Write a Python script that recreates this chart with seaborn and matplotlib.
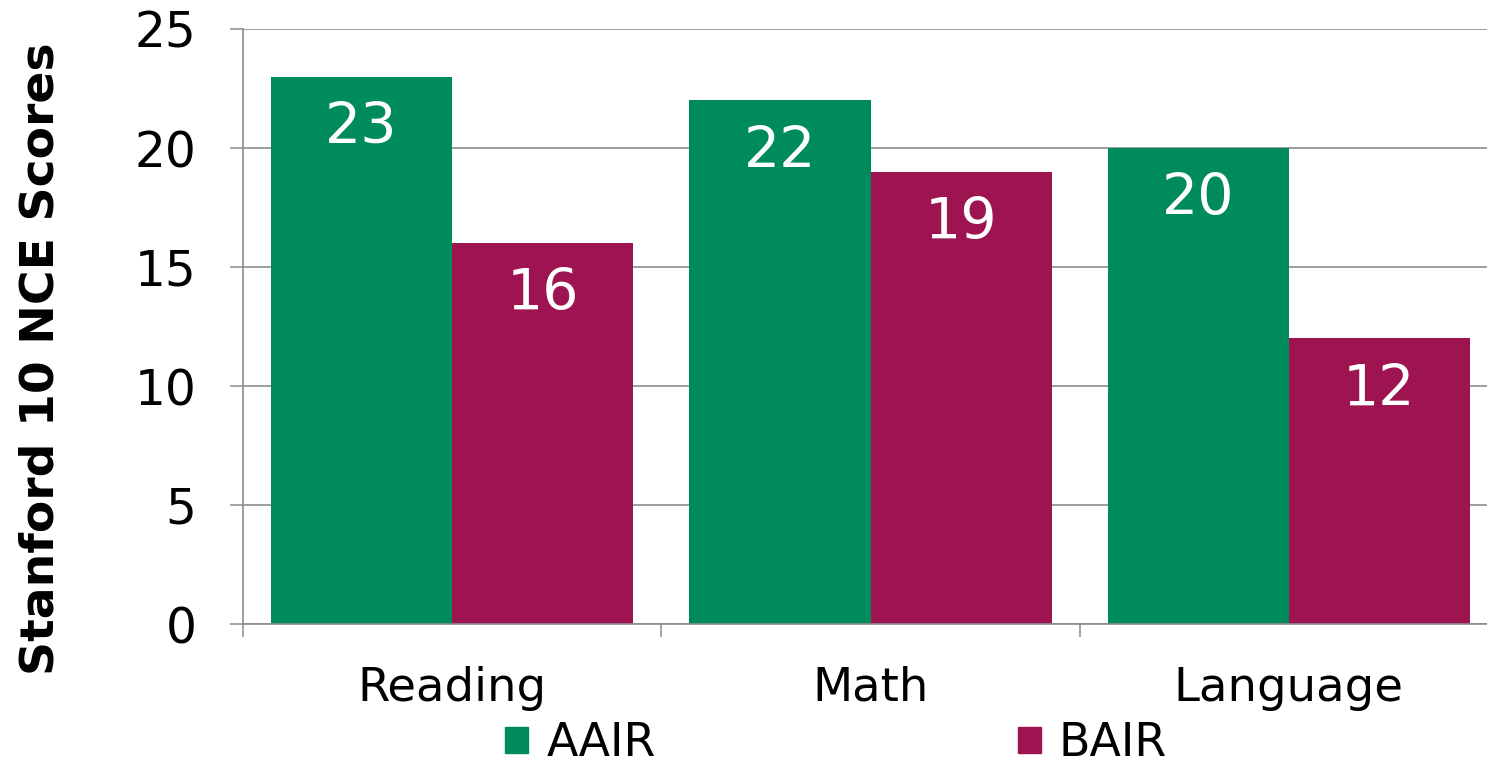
import numpy as np
import pandas as pd
import matplotlib
matplotlib.use("Agg")
import matplotlib.pyplot as plt
import matplotlib.patches as mpatches
import seaborn as sns

subjects = ["Reading", "Math", "Language"]
groups = ["AAIR", "BAIR"]
aair_scores = [23, 22, 20]
bair_scores = [16, 19, 12]
y_ticks = [0, 5, 10, 15, 20, 25]

colors = {"AAIR": "#008B5C", "BAIR": "#9E1450"}
grid_grey = "#8C8C8C"

df = pd.DataFrame({
    "subject": subjects * 2,
    "group": ["AAIR"] * 3 + ["BAIR"] * 3,
    "score": aair_scores + bair_scores,
})

sns.set_theme(style="white")
plt.rcParams["font.family"] = ["DejaVu Sans"]
plt.rcParams["text.color"] = "black"
plt.rcParams["axes.labelcolor"] = "black"

fig = plt.figure(figsize=(14.87, 7.67), dpi=100)
ax = fig.add_axes([243 / 1487, 1 - 624 / 767, 1255 / 1487, 595 / 767])

sns.barplot(data=df, x="subject", y="score", hue="group", order=subjects,
            hue_order=groups, palette=colors, width=0.866, gap=0,
            saturation=1, errorbar=None, ax=ax, legend=False)

for bar in ax.patches:
    bar.set_edgecolor("none")

for cont in ax.containers:
    ax.bar_label(cont, labels=[str(int(v)) for v in cont.datavalues],
                 padding=-57, color="white", fontsize=41)

ax.set_ylim(0, 25)
ax.set_xlim(-0.5, 2.5)
ax.set_yticks(y_ticks)
ax.yaxis.grid(True, color=grid_grey, linewidth=1.2)
ax.set_axisbelow(True)

ax.tick_params(axis="y", labelsize=35, length=9.4, width=1.1, color=grid_grey,
               pad=24, left=True, labelcolor="black")
ax.tick_params(axis="x", which="major", labelsize=33.5, length=0, pad=30,
               labelcolor="black")
ax.set_xticks(np.arange(-0.5, 3, 1), minor=True)
ax.tick_params(axis="x", which="minor", length=9.4, width=1.1, color=grid_grey,
               bottom=True)

for side in ["top", "right"]:
    ax.spines[side].set_visible(False)
for side in ["left", "bottom"]:
    ax.spines[side].set_color(grid_grey)
    ax.spines[side].set_linewidth(1.2)

ax.set_xlabel("")
ax.set_ylabel("")
fig.text(41 / 1487, 1 - 359 / 767, "Stanford 10 NCE Scores", rotation=90,
         ha="center", va="center", fontsize=34, fontweight="bold",
         color="black")

# legend sits right at the bottom edge, kept just inside the canvas
handles = [mpatches.Patch(color=colors[g], label=g) for g in groups]
leg = fig.legend(handles=handles, loc="lower center", ncol=2,
                 bbox_to_anchor=(836 / 1487, 1 / 767), frameon=False,
                 fontsize=33, handlelength=0.5, handleheight=0.5,
                 handletextpad=0.4, columnspacing=7.9, borderpad=0,
                 borderaxespad=0)
for t in leg.get_texts():
    t.set_color("black")

fig.savefig("out.png", dpi=100)
